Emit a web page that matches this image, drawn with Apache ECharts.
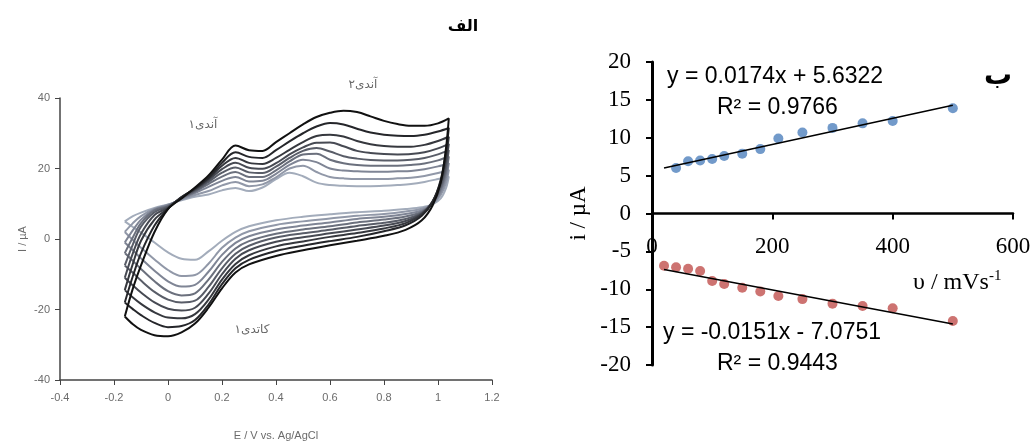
<!DOCTYPE html>
<html>
<head>
<meta charset="utf-8">
<script src="https://cdn.jsdelivr.net/npm/echarts@6/dist/echarts.min.js"></script>
<style>
html, body { margin: 0; background: #fff; }
#main { width: 1035px; height: 448px; }
</style>
</head>
<body>
<div id="main"></div>
<script>
// potential grid: forward scan -0.16 -> 1.04, then reverse back to -0.16
var cvPotential = [-0.16, -0.13, -0.1, -0.05, 0, 0.05, 0.1, 0.15, 0.2, 0.25, 0.3, 0.35, 0.4, 0.45, 0.5, 0.55, 0.6, 0.65, 0.7, 0.75, 0.8, 0.85, 0.9, 0.95, 1.0, 1.04,
    1.03, 1.01, 0.98, 0.94, 0.88, 0.8, 0.7, 0.6, 0.5, 0.4, 0.3, 0.25, 0.2, 0.15, 0.1, 0.05, 0, -0.05, -0.1, -0.13, -0.16];

// currents (uA), slowest scan first
var cv1 = [5, 6.5, 7.5, 8.8, 9.8, 11, 12, 12.6, 13.8, 14.5, 13.6, 14.6, 17, 18.8, 17.8, 16, 15.3, 15.1, 15, 15, 15.1, 15.3, 15.6, 16.2, 17, 17.7,
    14.5, 11.5, 9.8, 9.0, 8.5, 8.0, 7.6, 7.0, 6.3, 5.3, 3.6, 2.0, -0.5, -3.5, -5.9, -5.6, -3.8, -1, 1.8, 3.4, 5];
var cv2 = [2, 4.5, 6.5, 8.6, 9.7, 11.2, 12.5, 13.6, 15.2, 16.2, 15, 15.5, 17.5, 20, 20.8, 19, 17.6, 17.2, 17, 17, 17, 17.2, 17.4, 17.9, 18.7, 19.6,
    16, 12.5, 10, 8.6, 7.8, 7.1, 6.6, 5.8, 5.0, 4.0, 2.2, 0.4, -2.5, -7, -10.2, -10.5, -8.8, -5.8, -2.5, -0.3, 2];
var cv3 = [-1, 2.5, 5.5, 8.4, 9.6, 11.4, 13, 14.8, 16.5, 17.6, 16.3, 16.5, 18.5, 21, 22.5, 21.8, 20, 19.4, 19.2, 19.1, 19.1, 19.2, 19.3, 19.8, 20.6, 21.5,
    17.5, 13.3, 10, 8.1, 7.1, 6.3, 5.7, 4.7, 3.8, 2.7, 0.8, -1.1, -4.5, -9.3, -13, -13.5, -12, -9, -5.5, -3.2, -1];
var cv4 = [-4, 0.5, 4.5, 8.1, 9.4, 11.6, 13.4, 15.6, 17.7, 19, 17.6, 17.6, 19.5, 22, 24, 24.2, 22.5, 21.5, 21, 20.8, 20.8, 20.8, 21, 21.4, 22.3, 23.4,
    19, 14.2, 10.2, 7.7, 6.4, 5.5, 4.7, 3.6, 2.7, 1.5, -0.6, -2.7, -6.5, -11.5, -15.4, -16, -14.8, -12, -8.5, -6.2, -4];
var cv5 = [-7.5, -1.5, 3.5, 7.6, 9.2, 11.7, 13.7, 16.2, 18.8, 20.3, 18.9, 18.7, 20.5, 23, 25, 25.8, 24.8, 23.5, 22.8, 22.4, 22.3, 22.3, 22.5, 23, 24, 25.2,
    20.5, 15, 10.4, 7.4, 5.7, 4.6, 3.7, 2.6, 1.6, 0.4, -1.9, -4.2, -8.3, -13.6, -17.5, -18, -17.2, -15, -11.8, -9.6, -7.5];
var cv6 = [-11, -4, 1.5, 6.8, 8.9, 11.8, 14, 16.7, 19.8, 21.6, 20.2, 19.9, 21.5, 24, 26, 27.3, 27.4, 26.3, 25, 24.4, 24.1, 24, 24.1, 24.6, 25.7, 27,
    22, 15.7, 10.6, 7.2, 5.1, 3.8, 2.7, 1.6, 0.5, -0.8, -3.2, -5.6, -10, -15.5, -19.5, -20.3, -19.8, -18, -15.2, -13.2, -11];
var cv7 = [-14.5, -7, -0.5, 5.5, 8.7, 11.9, 14.2, 17.1, 20.8, 23, 21.6, 21.3, 23, 25.3, 27.5, 29.2, 29.6, 29.1, 27.8, 26.9, 26.4, 26.2, 26.2, 26.7, 27.8, 29,
    23.5, 16.2, 10.7, 7.0, 4.5, 3.0, 1.7, 0.6, -0.7, -2.1, -4.6, -7.1, -11.5, -17.2, -21.3, -22.5, -22.3, -20.8, -18.4, -16.6, -14.5];
var cv8 = [-18, -10.5, -4, 3.8, 8.6, 11.8, 14.4, 17.4, 21.6, 24.6, 23.3, 23, 25.2, 27.7, 30, 31.9, 32.9, 32.5, 31.3, 30.2, 29.6, 29.3, 29.2, 29.6, 30.5, 31.5,
    25, 16.8, 10.5, 6.6, 3.9, 2.2, 0.6, -0.6, -1.9, -3.4, -5.9, -8.3, -12.8, -18.6, -23, -24.7, -25, -23.8, -21.6, -19.9, -18];
var cv9 = [-22, -14, -7.5, 2, 8.5, 11.5, 14.6, 18, 22.5, 26.5, 25.2, 25, 27.5, 30, 32.5, 34.6, 35.8, 36.4, 36, 34.8, 33.5, 32.6, 32.1, 32.1, 32.8, 34.2,
    26, 16, 9.5, 5.3, 2.6, 0.9, -0.5, -1.8, -3.2, -4.8, -7.2, -9.5, -14, -19.5, -24, -26.5, -27.6, -27.3, -25.8, -24.2, -22];
var cvColors = ['#a3acbb', '#9198a8', '#7f8595', '#6b707d', '#595d68', '#474a53', '#36383e', '#25262a', '#111111'];

// panel b: peak current vs scan rate
var anodicRate = [40, 60, 80, 100, 120, 150, 180, 210, 250, 300, 350, 400, 500];
var anodicPeak = [6.0, 6.9, 7.0, 7.2, 7.6, 7.9, 8.5, 9.9, 10.7, 11.3, 11.9, 12.2, 13.9];
var cathodicRate = [20, 40, 60, 80, 100, 120, 150, 180, 210, 250, 300, 350, 400, 500];
var cathodicPeak = [-6.9, -7.1, -7.3, -7.6, -8.9, -9.3, -9.8, -10.3, -10.9, -11.3, -11.9, -12.2, -12.5, -14.2];
var fitRate = [20, 500];
var anodicFit = [6.0, 14.3];
var cathodicFit = [-7.4, -14.6];

function zip(xs, ys) {
    var out = [];
    for (var i = 0; i < xs.length; i++) out.push([xs[i], ys[i]]);
    return out;
}

var cvCurves = [cv1, cv2, cv3, cv4, cv5, cv6, cv7, cv8, cv9];
var series = [];
for (var k = 0; k < cvCurves.length; k++) {
    series.push({
        type: 'line',
        xAxisIndex: 0,
        yAxisIndex: 0,
        data: zip(cvPotential, cvCurves[k]),
        showSymbol: false,
        smooth: 0.35,
        lineStyle: { color: cvColors[k], width: 2 },
        silent: true
    });
}
series.push({
    type: 'line', xAxisIndex: 1, yAxisIndex: 1,
    data: zip(fitRate, anodicFit), showSymbol: false,
    lineStyle: { color: '#000', width: 1.5 }
});
series.push({
    type: 'line', xAxisIndex: 1, yAxisIndex: 1,
    data: zip(fitRate, cathodicFit), showSymbol: false,
    lineStyle: { color: '#000', width: 1.5 }
});
series.push({
    type: 'scatter', xAxisIndex: 1, yAxisIndex: 1,
    data: zip(anodicRate, anodicPeak), symbolSize: 10,
    itemStyle: { color: '#4f81bd' }
});
series.push({
    type: 'scatter', xAxisIndex: 1, yAxisIndex: 1,
    data: zip(cathodicRate, cathodicPeak), symbolSize: 10,
    itemStyle: { color: '#c0504d' }
});

var grayLabel = { color: '#6b6b6b', fontSize: 11, fontFamily: 'Liberation Sans' };
var serif = 'Liberation Serif';
var sans = 'Liberation Sans';

var option = {
    animation: false,
    backgroundColor: '#fff',
    grid: [
        { left: 60, top: 98, width: 432, height: 282 },
        { left: 652, top: 62, width: 361, height: 303 },
        // upper half of panel b, only used to hang the x tick labels under the zero line
        { left: 652, top: 62, width: 361, height: 151.5 }
    ],
    xAxis: [{
        gridIndex: 0, type: 'value', min: -0.4, max: 1.2, interval: 0.2,
        axisLine: { onZero: false, lineStyle: { color: '#444', width: 1.5 } },
        axisTick: { lineStyle: { color: '#444' }, length: 5 },
        axisLabel: Object.assign({ margin: 12 }, grayLabel),
        splitLine: { show: false },
        name: 'E / V vs. Ag/AgCl', nameLocation: 'middle', nameGap: 50,
        nameTextStyle: grayLabel
    }, {
        gridIndex: 1, type: 'value', min: 0, max: 600, interval: 200,
        axisLine: { lineStyle: { color: '#000', width: 2.5 } },
        axisTick: { lineStyle: { color: '#000', width: 2 }, length: 6 },
        axisLabel: { show: false },
        splitLine: { show: false }
    }, {
        gridIndex: 2, type: 'value', min: 0, max: 600, interval: 200,
        axisLine: { show: false },
        axisTick: { show: false },
        axisLabel: { color: '#000', fontSize: 23, fontFamily: serif, margin: 22 },
        splitLine: { show: false }
    }],
    yAxis: [{
        gridIndex: 0, type: 'value', min: -40, max: 40, interval: 20,
        axisLine: { show: true, onZero: false, lineStyle: { color: '#444', width: 1.5 } },
        axisTick: { show: true, lineStyle: { color: '#444' }, length: 5 },
        axisLabel: Object.assign({ margin: 10 }, grayLabel),
        splitLine: { show: false },
        name: 'I / µA', nameLocation: 'middle', nameGap: 32,
        nameTextStyle: grayLabel
    }, {
        gridIndex: 1, type: 'value', min: -20, max: 20, interval: 5,
        axisLine: { show: true, lineStyle: { color: '#000', width: 3 } },
        axisTick: { show: true, lineStyle: { color: '#000', width: 2 }, length: 6 },
        axisLabel: { color: '#000', fontSize: 23, fontFamily: serif, margin: 21 },
        splitLine: { show: false },
        name: 'i / µA', nameLocation: 'middle', nameGap: 62,
        nameTextStyle: { color: '#000', fontSize: 23, fontFamily: serif }
    }, {
        gridIndex: 2, type: 'value', min: 0, max: 20, show: false
    }],
    series: series,
    graphic: [
        { type: 'text', x: 463, y: 27, style: { text: 'الف', font: 'bold 16px "DejaVu Sans"', fill: '#000', align: 'center', verticalAlign: 'middle' } },
        { type: 'text', x: 998, y: 77, style: { text: 'ب', font: 'bold 28px "DejaVu Sans"', fill: '#000', align: 'center', verticalAlign: 'middle' } },
        { type: 'text', x: 363, y: 85, style: { text: 'آندی۲', font: '12px "DejaVu Sans"', fill: '#666', align: 'center', verticalAlign: 'middle' } },
        { type: 'text', x: 203, y: 125, style: { text: 'آندی۱', font: '12px "DejaVu Sans"', fill: '#666', align: 'center', verticalAlign: 'middle' } },
        { type: 'text', x: 252, y: 330, style: { text: 'کاتدی۱', font: '12px "DejaVu Sans"', fill: '#666', align: 'center', verticalAlign: 'middle' } },
        { type: 'text', x: 667, y: 77, style: { text: 'y = 0.0174x + 5.6322', font: '23px "' + sans + '"', fill: '#000', verticalAlign: 'middle' } },
        { type: 'text', x: 717, y: 108, style: { text: 'R² = 0.9766', font: '23px "' + sans + '"', fill: '#000', verticalAlign: 'middle' } },
        { type: 'text', x: 663, y: 333, style: { text: 'y = -0.0151x - 7.0751', font: '23px "' + sans + '"', fill: '#000', verticalAlign: 'middle' } },
        { type: 'text', x: 717, y: 364, style: { text: 'R² = 0.9443', font: '23px "' + sans + '"', fill: '#000', verticalAlign: 'middle' } },
        { type: 'text', x: 913, y: 269, style: {
            text: '{a|υ / mVs}{b|-1}',
            rich: {
                a: { fontSize: 24, fontFamily: serif, color: '#000' },
                b: { fontSize: 15, fontFamily: serif, color: '#000', padding: [0, 0, 12, 0] }
            }
        } }
    ]
};

var chart = echarts.init(document.getElementById('main'));
chart.setOption(option);
</script>
</body>
</html>
